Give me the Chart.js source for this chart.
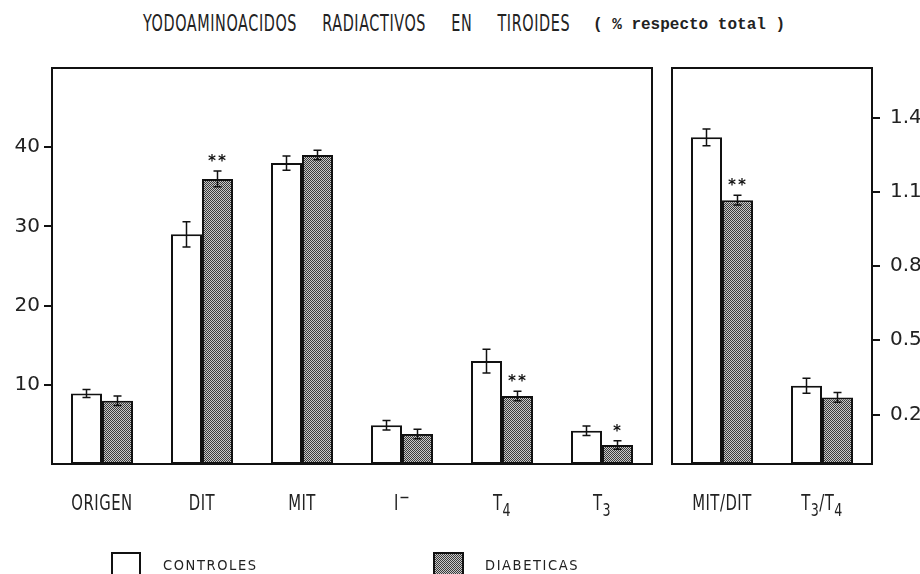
<!DOCTYPE html>
<html>
<head>
<meta charset="utf-8">
<script src="https://cdn.jsdelivr.net/npm/chart.js@4.4.0/dist/chart.umd.min.js"></script>
<style>
  body { margin: 0; background: #fff; width: 920px; height: 574px; overflow: hidden; position: relative; }
  #izq { position: absolute; left: 0; top: 0; }
  #der { position: absolute; left: 660px; top: 0; }
  .t1 { position: absolute; left: 143px; top: 10px; font: 16px 'DejaVu Sans Condensed', sans-serif; color: #222;
        white-space: pre; transform: scaleY(1.4); transform-origin: left top; letter-spacing: 0.6px; word-spacing: 20px; }
  .t2 { position: absolute; left: 593px; top: 16px; font: bold 16px 'Liberation Mono', monospace; color: #222; white-space: pre; }
</style>
</head>
<body>
<div class="t1">YODOAMINOACIDOS RADIACTIVOS EN TIROIDES</div>
<div class="t2">( % respecto total )</div>
<canvas id="izq" width="660" height="574"></canvas>
<canvas id="der" width="260" height="574"></canvas>
<script>
// panel izquierdo (% respecto total)
const categoriasIzq = ['ORIGEN', 'DIT', 'MIT', 'I⁻', 'T₄', 'T₃'];
const controlesIzq = [8.9, 29.0, 38.0, 4.9, 13.0, 4.2];
const diabeticasIzq = [8.0, 36.0, 39.0, 3.8, 8.6, 2.4];
const errControlesIzq = [0.5, 1.6, 0.9, 0.6, 1.5, 0.6];
const errDiabeticasIzq = [0.6, 1.0, 0.6, 0.6, 0.6, 0.55];
const signifIzq = ['', '**', '', '', '**', '*'];
const ticksIzq = [10, 20, 30, 40];

// panel derecho (cocientes)
const categoriasDer = ['MIT/DIT', 'T₃/T₄'];
const controlesDer = [1.32, 0.316];
const diabeticasDer = [1.066, 0.269];
const errControlesDer = [0.034, 0.03];
const errDiabeticasDer = [0.02, 0.02];
const signifDer = ['**', ''];
const ticksDer = [0.2, 0.5, 0.8, 1.1, 1.4];

const leyenda = ['CONTROLES', 'DIABETICAS'];

Chart.defaults.font.family = "'DejaVu Sans Condensed', 'DejaVu Sans', sans-serif";
Chart.defaults.color = '#222';

// trama punteada de las diabeticas
const trama = (() => {
    const c = document.createElement('canvas');
    c.width = 2; c.height = 2;
    const g = c.getContext('2d');
    g.fillStyle = '#c8c8c8';
    g.fillRect(0, 0, 2, 2);
    g.fillStyle = '#3a3a3a';
    g.fillRect(0, 0, 1, 1);
    g.fillRect(1, 1, 1, 1);
    return g.createPattern(c, 'repeat');
})();

// marco alrededor del area del grafico
const marco = {
    id: 'marco',
    afterDraw(chart) {
        const a = chart.chartArea, ctx = chart.ctx;
        ctx.save();
        ctx.strokeStyle = '#111';
        ctx.lineWidth = 2;
        ctx.strokeRect(a.left, a.top, a.right - a.left, a.bottom - a.top);
        ctx.restore();
    }
};

// etiquetas del eje x con subindices de verdad (T3, T4) y el menos de I-
const subs = '₀₁₂₃₄₅₆₇₈₉';
const etiquetas = {
    id: 'etiquetas',
    afterDraw(chart) {
        const ctx = chart.ctx, x = chart.scales.x;
        const base = chart.chartArea.bottom + 46;
        const grande = "16.5px 'DejaVu Sans Condensed', sans-serif";
        const chico = "14px 'DejaVu Sans Condensed', sans-serif";
        ctx.save();
        ctx.fillStyle = '#222';
        ctx.textBaseline = 'alphabetic';
        ctx.textAlign = 'left';
        chart.data.labels.forEach((lab, i) => {
            const trozos = [...lab].map(ch => {
                const k = subs.indexOf(ch);
                if (k >= 0) return { t: String(k), f: chico, dy: 5 };
                if (ch === '⁻') return { t: '−', f: chico, dy: -6 };
                return { t: ch, f: grande, dy: 0 };
            });
            let ancho = 0;
            trozos.forEach(p => { ctx.font = p.f; p.w = ctx.measureText(p.t).width + 0.5; ancho += p.w; });
            ctx.save();
            ctx.translate(x.getPixelForTick(i) - ancho / 2, base);
            ctx.scale(1, 1.25);
            let cx = 0;
            trozos.forEach(p => { ctx.font = p.f; ctx.fillText(p.t, cx, p.dy); cx += p.w; });
            ctx.restore();
        });
        ctx.restore();
    }
};

// barras de error y asteriscos
const errores = {
    id: 'errores',
    afterDatasetsDraw(chart, args, opts) {
        const ctx = chart.ctx, y = chart.scales.y;
        ctx.save();
        ctx.strokeStyle = '#111';
        ctx.lineWidth = 1.5;
        chart.data.datasets.forEach((ds, i) => {
            const meta = chart.getDatasetMeta(i);
            meta.data.forEach((bar, j) => {
                const v = ds.data[j], e = opts.err[i][j];
                const top = y.getPixelForValue(v + e), bot = y.getPixelForValue(v - e);
                ctx.beginPath();
                ctx.moveTo(bar.x, top); ctx.lineTo(bar.x, bot);
                ctx.moveTo(bar.x - 4, top); ctx.lineTo(bar.x + 4, top);
                ctx.moveTo(bar.x - 4, bot); ctx.lineTo(bar.x + 4, bot);
                ctx.stroke();
                const s = opts.sig[i] && opts.sig[i][j];
                if (s) {
                    ctx.fillStyle = '#111';
                    ctx.font = "bold 15px 'DejaVu Sans Mono', monospace";
                    ctx.textAlign = 'center';
                    ctx.textBaseline = 'middle';
                    ctx.letterSpacing = '1px';
                    ctx.fillText(s, bar.x, top - 9);
                }
            });
        });
        ctx.restore();
    }
};

// leyenda dibujada abajo
const leyendaAbajo = {
    id: 'leyendaAbajo',
    afterDraw(chart) {
        const ctx = chart.ctx;
        ctx.save();
        ctx.lineWidth = 2;
        ctx.strokeStyle = '#111';
        ctx.fillStyle = '#fff';
        ctx.fillRect(112, 553, 28, 30);
        ctx.strokeRect(112, 553, 28, 30);
        ctx.fillStyle = trama;
        ctx.fillRect(434, 553, 29, 30);
        ctx.strokeRect(434, 553, 29, 30);
        ctx.fillStyle = '#222';
        ctx.font = "14.5px 'DejaVu Sans Condensed', sans-serif";
        ctx.letterSpacing = '1.6px';
        ctx.textBaseline = 'middle';
        ctx.fillText(leyenda[0], 163, 566);
        ctx.fillText(leyenda[1], 485, 566);
        ctx.restore();
    }
};

const barras = (ctrl, diab) => [
    { label: leyenda[0], data: ctrl, backgroundColor: '#fff', borderColor: '#111', borderWidth: 2, borderSkipped: false },
    { label: leyenda[1], data: diab, backgroundColor: trama, borderColor: '#111', borderWidth: 2, borderSkipped: false }
];

const ejeX = {
    grid: { display: false, drawTicks: false },
    border: { display: false },
    ticks: { display: false },
    afterFit: s => { s.height = 70; }
};

const ejeY = (extra) => Object.assign({
    grid: { drawOnChartArea: false, drawTicks: true, tickLength: 8, color: '#111', lineWidth: 2 },
    border: { display: false }
}, extra);

new Chart(document.getElementById('izq'), {
    type: 'bar',
    data: { labels: categoriasIzq, datasets: barras(controlesIzq, diabeticasIzq) },
    options: {
        responsive: false,
        animation: false,
        layout: { padding: { left: 0, right: 8, top: 68, bottom: 40 } },
        datasets: { bar: { categoryPercentage: 0.62, barPercentage: 1.0 } },
        plugins: {
            legend: { display: false },
            tooltip: { enabled: false },
            errores: { err: [errControlesIzq, errDiabeticasIzq], sig: [null, signifIzq] }
        },
        scales: {
            x: ejeX,
            y: ejeY({
                min: 0, max: 50,
                afterBuildTicks: s => { s.ticks = ticksIzq.map(v => ({ value: v })); },
                ticks: { font: { size: 20, family: "'DejaVu Sans', sans-serif" }, padding: 4, color: '#222' },
                afterFit: s => { s.width = 52; }
            })
        }
    },
    plugins: [marco, errores, etiquetas, leyendaAbajo]
});

new Chart(document.getElementById('der'), {
    type: 'bar',
    data: { labels: categoriasDer, datasets: barras(controlesDer, diabeticasDer) },
    options: {
        responsive: false,
        animation: false,
        layout: { padding: { left: 12, right: 0, top: 68, bottom: 40 } },
        datasets: { bar: { categoryPercentage: 0.62, barPercentage: 1.0 } },
        plugins: {
            legend: { display: false },
            tooltip: { enabled: false },
            errores: { err: [errControlesDer, errDiabeticasDer], sig: [null, signifDer] }
        },
        scales: {
            x: ejeX,
            y: ejeY({
                position: 'right',
                min: 0, max: 1.6,
                afterBuildTicks: s => { s.ticks = ticksDer.map(v => ({ value: v })); },
                ticks: { font: { size: 20, family: "'DejaVu Sans', sans-serif" }, padding: 10, color: '#222',
                         callback: v => v.toFixed(1) },
                afterFit: s => { s.width = 48; }
            })
        }
    },
    plugins: [marco, errores, etiquetas]
});
</script>
</body>
</html>
